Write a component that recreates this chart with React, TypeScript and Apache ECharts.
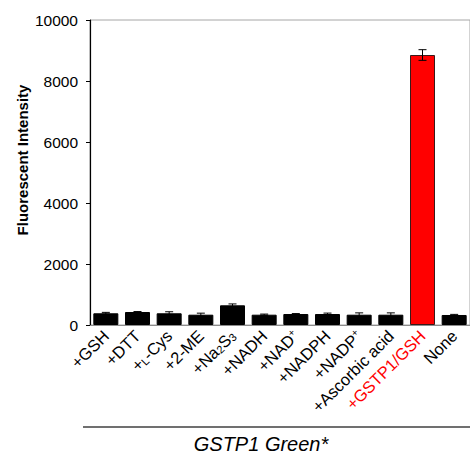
import React, { useEffect, useRef } from "react";
import * as echarts from "echarts";

const categories = [
  "+GSH",
  "+DTT",
  "+L-Cys",
  "+2-ME",
  "+Na2S3",
  "+NADH",
  "+NAD+",
  "+NADPH",
  "+NADP+",
  "+Ascorbic acid",
  "+GSTP1/GSH",
  "None",
];
const values = [384, 426, 384, 338, 646, 338, 360, 360, 338, 338, 8852, 328];
const errors = [30, 15, 50, 50, 45, 20, 15, 30, 60, 60, 175, 20];
const highlight = "+GSTP1/GSH";
const yTicks = [0, 2000, 4000, 6000, 8000, 10000];

const FONT = "'Liberation Sans', Arial, sans-serif";

const richLabel: Record<string, string> = {
  "+L-Cys": "+{sub|L}-Cys",
  "+Na2S3": "+Na{sub|2}S{sub|3}",
  "+NAD+": "+NAD{sup|+}",
  "+NADP+": "+NADP{sup|+}",
};

export default function App() {
  const ref = useRef<HTMLDivElement>(null);
  useEffect(() => {
    document.body.style.margin = "0";
    const chart = echarts.init(ref.current!, null, { renderer: "svg" });
    const option: any = {
      animation: false,
      backgroundColor: "#ffffff",
      grid: {
        left: 90,
        top: 20,
        width: 386,
        height: 305,
        show: true,
        borderColor: "#a6a6a6",
        borderWidth: 1,
        backgroundColor: "transparent",
      },
      xAxis: {
        type: "category",
        data: categories.map((c) =>
          c === highlight ? { value: c, textStyle: { color: "#ff0000" } } : c
        ),
        axisLine: { show: true, lineStyle: { color: "#8c8c8c", width: 1 } },
        axisTick: { show: false },
        axisLabel: {
          interval: 0,
          rotate: 45,
          margin: 8,
          fontFamily: FONT,
          fontSize: 16.5,
          color: "#000",
          formatter: (v: string) => richLabel[v] || v,
          rich: {
            sub: { fontFamily: FONT, fontSize: 11, verticalAlign: "bottom", lineHeight: 12 },
            sup: { fontFamily: FONT, fontSize: 10, verticalAlign: "top", lineHeight: 11 },
          },
        },
      },
      yAxis: {
        type: "value",
        min: yTicks[0],
        max: yTicks[yTicks.length - 1],
        interval: 2000,
        axisLine: { show: true, lineStyle: { color: "#000", width: 1.2 } },
        axisTick: { show: true, length: 4, lineStyle: { color: "#000" } },
        splitLine: { show: false },
        axisLabel: {
          fontFamily: FONT,
          fontSize: 15.5,
          color: "#000",
          margin: 12,
          formatter: (v: number) => String(v),
        },
      },
      series: [
        {
          type: "bar",
          barWidth: 25,
          data: values.map((v, i) =>
            categories[i] === highlight
              ? { value: v, itemStyle: { color: "#ff0000", borderColor: "#3a1a1a", borderWidth: 1 } }
              : { value: v, itemStyle: { color: "#000000", borderColor: "#000", borderWidth: 1 } }
          ),
        },
        {
          type: "custom",
          z: 10,
          data: values.map((v, i) => [i, v, errors[i]]),
          renderItem: (params: any, api: any) => {
            const i = api.value(0);
            const v = api.value(1);
            const e = api.value(2);
            const hi = api.coord([i, v + e]);
            const lo = api.coord([i, v - e]);
            const hw = 4;
            const style = { stroke: "#000", lineWidth: 1 };
            return {
              type: "group",
              children: [
                { type: "line", shape: { x1: hi[0], y1: hi[1], x2: lo[0], y2: lo[1] }, style },
                { type: "line", shape: { x1: hi[0] - hw, y1: hi[1], x2: hi[0] + hw, y2: hi[1] }, style },
                { type: "line", shape: { x1: lo[0] - hw, y1: lo[1], x2: lo[0] + hw, y2: lo[1] }, style },
              ],
            };
          },
        },
      ],
      graphic: [
        {
          type: "text",
          x: 22,
          y: 160,
          rotation: Math.PI / 2,
          style: {
            text: "Fluorescent Intensity",
            font: `bold 15px ${FONT}`,
            fill: "#000",
            align: "center",
            verticalAlign: "middle",
          },
        },
        {
          type: "line",
          shape: { x1: 83, y1: 427, x2: 470, y2: 427 },
          style: { stroke: "#404040", lineWidth: 1.5 },
        },
        {
          type: "text",
          x: 261,
          y: 444,
          style: {
            text: "GSTP1 Green*",
            font: `italic 20px ${FONT}`,
            fill: "#000",
            align: "center",
            verticalAlign: "middle",
          },
        },
      ],
    };
    chart.setOption(option);
    return () => chart.dispose();
  }, []);
  return (
    <div
      ref={ref}
      style={{ position: "absolute", left: 0, top: 0, width: 470, height: 455 }}
    />
  );
}
